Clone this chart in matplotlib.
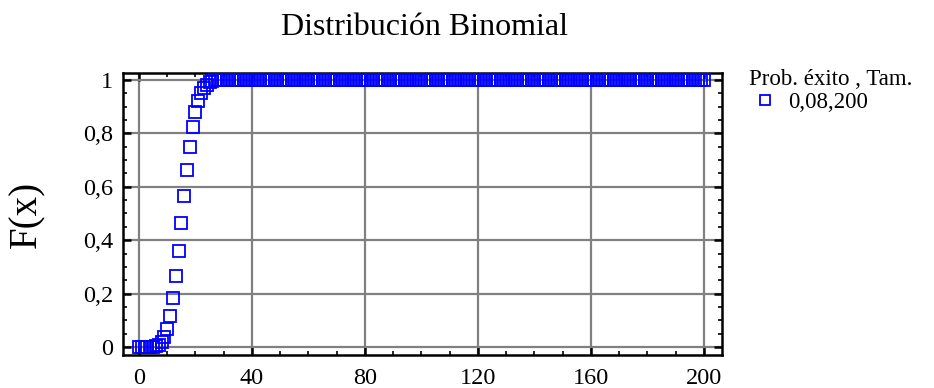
import matplotlib
matplotlib.use("Agg")
import matplotlib.pyplot as plt
from matplotlib.ticker import MultipleLocator, FuncFormatter

plt.rcParams['font.family'] = ['Liberation Serif', 'DejaVu Serif']

# Cumulative probabilities F(x) for x = 0..200
x_values = list(range(0, 201))
cdf_head = [0.000, 0.000, 0.000, 0.000, 0.000, 0.001, 0.003, 0.008, 0.018, 0.037,
            0.069, 0.117, 0.182, 0.265, 0.360, 0.463, 0.567, 0.664, 0.750, 0.822,
            0.879, 0.921, 0.951, 0.971, 0.983, 0.991, 0.996, 0.998, 0.999, 1.000,
            1.000]
cdf_tail = [1.0] * (len(x_values) - len(cdf_head))
cdf_values = cdf_head + cdf_tail

x_ticks = [0, 40, 80, 120, 160, 200]
y_ticks = [0, 0.2, 0.4, 0.6, 0.8, 1.0]

title = "Distribución Binomial"
y_label = "F(x)"
legend_title = "Prob. éxito , Tam."
series_label = "0,08,200"

fig = plt.figure(figsize=(9.34, 3.88), dpi=100)
ax = fig.add_axes([0.1317, 0.085, 0.6413, 0.7268])

ax.plot(x_values, cdf_values, linestyle='none', marker='s', markersize=8.2,
        markerfacecolor='none', markeredgecolor='#0000ff', markeredgewidth=1.3,
        label=series_label, zorder=3)

ax.set_xlim(-5.66, 206.4)
ax.set_ylim(-0.03, 1.026)
ax.set_xticks(x_ticks)
ax.set_yticks(y_ticks)
ax.xaxis.set_minor_locator(MultipleLocator(10))
ax.yaxis.set_minor_locator(MultipleLocator(0.05))

def comma_fmt(v, pos):
    if abs(v) < 1e-9:
        return "0"
    if abs(v - round(v)) < 1e-9:
        return str(int(round(v)))
    return f"{v:.1f}".replace('.', ',')

ax.yaxis.set_major_formatter(FuncFormatter(comma_fmt))

ax.grid(True, which='major', color='#808080', linewidth=1.6, zorder=0)
ax.set_axisbelow(True)

for side in ax.spines.values():
    side.set_linewidth(1.8)
    side.set_color('black')

ax.tick_params(which='both', direction='in', top=True, right=True,
               color='black', labelsize=17.5)
ax.tick_params(axis='x', pad=9)
ax.tick_params(axis='y', pad=7)
ax.tick_params(which='major', length=6, width=1.8)
ax.tick_params(which='minor', length=3, width=1.2)

ax.set_ylabel(y_label, fontsize=28, labelpad=27)
fig.text(0.455, 0.93, title, ha='center', va='center', fontsize=23)

leg = ax.legend(loc='upper left', bbox_to_anchor=(1.03, 1.045), frameon=False,
                title=legend_title, title_fontsize=16.5, fontsize=16.5,
                handletextpad=0.3, handlelength=1.4, borderaxespad=0,
                labelspacing=0.2, markerscale=0.8)
leg._legend_box.align = 'left'
leg._legend_box.sep = 1

fig.savefig("out.png", dpi=100)
